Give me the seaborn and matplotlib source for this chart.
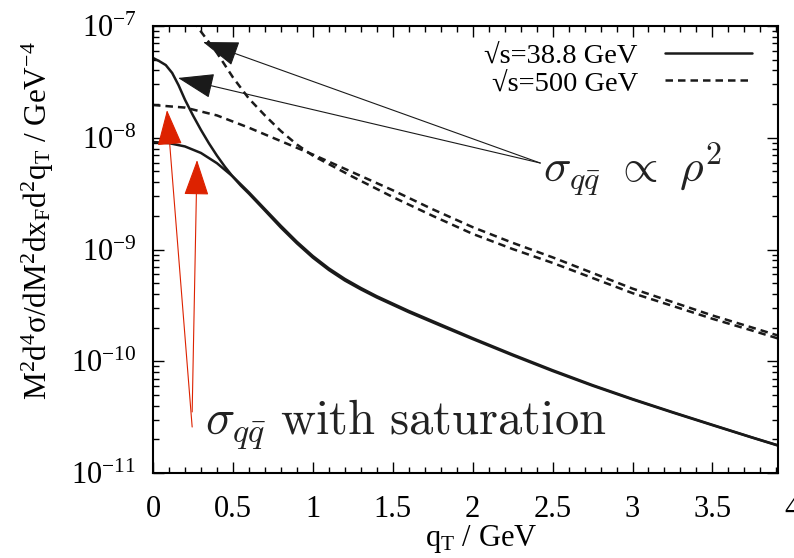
"""Drell-Yan qT spectrum: dipole cross section with and without saturation."""
import matplotlib
matplotlib.use("Agg")
import matplotlib.pyplot as plt
import numpy as np
import seaborn as sns
from matplotlib.lines import Line2D
from matplotlib.ticker import FixedLocator, FuncFormatter, LogLocator, MultipleLocator, NullFormatter

# sqrt(s) = 38.8 GeV, sigma_qq ~ rho^2
Q_388_RHO = [0.0, 0.04, 0.08, 0.12, 0.16, 0.20, 0.25, 0.30, 0.35, 0.40, 0.45, 0.50, 0.55,
             0.60, 0.70, 0.80, 0.90, 1.00, 1.10, 1.20, 1.30, 1.40, 1.60, 1.80, 2.00, 2.25,
             2.50, 2.75, 3.00, 3.25, 3.50, 3.75, 3.91]
XS_388_RHO = [5.18e-8, 4.84e-8, 4.47e-8, 3.80e-8, 2.95e-8, 2.19e-8, 1.585e-8, 1.175e-8,
              8.91e-9, 6.92e-9, 5.50e-9, 4.47e-9, 3.72e-9, 3.16e-9, 2.23e-9, 1.57e-9,
              1.135e-9, 8.45e-10, 6.56e-10, 5.28e-10, 4.40e-10, 3.72e-10, 2.75e-10,
              2.08e-10, 1.58e-10, 1.13e-10, 8.18e-11, 6.04e-11, 4.55e-11, 3.48e-11,
              2.68e-11, 2.07e-11, 1.76e-11]

# sqrt(s) = 38.8 GeV, saturated sigma_qq
Q_388_SAT = [0.0, 0.10, 0.20, 0.30, 0.40, 0.50, 0.60, 0.70, 0.80, 0.90, 1.00, 1.10, 1.20,
             1.30, 1.40, 1.60, 1.80, 2.00, 2.25, 2.50, 2.75, 3.00, 3.25, 3.50, 3.75, 3.91]
XS_388_SAT = [9.16e-9, 8.95e-9, 8.36e-9, 7.31e-9, 5.92e-9, 4.49e-9, 3.25e-9, 2.30e-9,
              1.63e-9, 1.175e-9, 8.75e-10, 6.78e-10, 5.46e-10, 4.53e-10, 3.82e-10,
              2.82e-10, 2.13e-10, 1.61e-10, 1.15e-10, 8.32e-11, 6.12e-11, 4.60e-11,
              3.51e-11, 2.70e-11, 2.08e-11, 1.77e-11]

# sqrt(s) = 500 GeV, sigma_qq ~ rho^2
Q_500_RHO = [0.25, 0.30, 0.40, 0.50, 0.60, 0.70, 0.80, 0.90, 1.00, 1.25, 1.50, 1.75, 2.00,
             2.25, 2.50, 2.75, 3.00, 3.25, 3.50, 3.75, 3.91]
XS_500_RHO = [1.12e-7, 8.91e-8, 5.75e-8, 3.47e-8, 2.24e-8, 1.585e-8, 1.148e-8, 8.71e-9,
              6.92e-9, 4.47e-9, 2.95e-9, 2.00e-9, 1.38e-9, 1.01e-9, 7.59e-10, 5.56e-10,
              4.07e-10, 3.13e-10, 2.40e-10, 1.88e-10, 1.60e-10]

# sqrt(s) = 500 GeV, saturated sigma_qq
Q_500_SAT = [0.0, 0.20, 0.40, 0.60, 0.80, 1.00, 1.25, 1.50, 1.75, 2.00, 2.25, 2.50, 2.75,
             3.00, 3.25, 3.50, 3.75, 3.91]
XS_500_SAT = [1.963e-8, 1.862e-8, 1.585e-8, 1.23e-8, 9.33e-9, 7.08e-9, 4.90e-9, 3.39e-9,
              2.29e-9, 1.585e-9, 1.148e-9, 8.51e-10, 6.17e-10, 4.47e-10, 3.39e-10,
              2.57e-10, 2.00e-10, 1.70e-10]

LEGEND_LABELS = ["√s=38.8 GeV", "√s=500 GeV"]
Y_DECADES = [1e-11, 1e-10, 1e-9, 1e-8, 1e-7]
Y_TICK_LABELS = [r"$10^{-11}$", r"$10^{-10}$", r"$10^{-9}$", r"$10^{-8}$", r"$10^{-7}$"]

sns.set_theme(style="ticks")
plt.rcParams["font.family"] = ["Liberation Serif", "DejaVu Serif"]
plt.rcParams.update({
    "mathtext.fontset": "custom",
    "mathtext.rm": "Liberation Serif",
    "mathtext.it": "Liberation Serif:italic",
    "mathtext.bf": "Liberation Serif:bold",
    "axes.edgecolor": "black",
    "xtick.color": "black",
    "ytick.color": "black",
    "text.color": "black",
    "axes.labelcolor": "black",
})

fig = plt.figure(figsize=(7.94, 5.58), dpi=100)
ax = fig.add_axes([0.1927, 0.1523, 0.7871, 0.8011])

LW = 1.8
DASH = (0, (3, 2))
sns.lineplot(x=Q_388_RHO, y=XS_388_RHO, ax=ax, color="k", lw=LW, estimator=None)
sns.lineplot(x=Q_388_SAT, y=XS_388_SAT, ax=ax, color="k", lw=LW, estimator=None)
sns.lineplot(x=Q_500_RHO, y=XS_500_RHO, ax=ax, color="k", lw=LW, linestyle=DASH, estimator=None)
sns.lineplot(x=Q_500_SAT, y=XS_500_SAT, ax=ax, color="k", lw=LW, linestyle=DASH, estimator=None)

ax.set_yscale("log")
ax.set_ylim(1e-11, 1e-7)
ax.set_xlim(0, 3.91)

ax.yaxis.set_major_locator(FixedLocator(Y_DECADES))
ax.set_yticklabels(Y_TICK_LABELS)
ax.yaxis.set_minor_locator(LogLocator(base=10, subs=np.arange(2, 10)))
ax.yaxis.set_minor_formatter(NullFormatter())
ax.xaxis.set_major_locator(MultipleLocator(0.5))
ax.xaxis.set_major_formatter(FuncFormatter(lambda v, _: f"{v:g}"))
ax.xaxis.set_minor_locator(MultipleLocator(0.1))

ax.tick_params(which="both", direction="in", top=True, right=True, width=1.0, labelsize=22)
ax.tick_params(axis="y", pad=12)
ax.tick_params(axis="x", pad=16)
ax.tick_params(which="major", length=8)
ax.tick_params(which="minor", length=4.3)
for sp in ax.spines.values():
    sp.set_linewidth(1.5)
    sp.set_color("black")

# gnuplot put the "4" label just past the right border
ax.text(4.0, -0.049, "4", transform=ax.get_xaxis_transform(), ha="center", va="top",
        fontsize=22, clip_on=False)

ax.set_xlabel(r"q$_{\rm T}$ / GeV", fontsize=22)
ax.xaxis.set_label_coords(0.525, -0.112)
ax.set_ylabel(r"M$^2$d$^4$σ/dM$^2$dx$_{\rm F}$d$^2$q$_{\rm T}$ / GeV$^{-4}$", fontsize=22.5)
ax.yaxis.set_label_coords(-0.155, 0.565)

handles = [Line2D([], [], color="k", lw=LW), Line2D([], [], color="k", lw=LW, linestyle=DASH)]
ax.legend(handles, LEGEND_LABELS, loc="upper right", bbox_to_anchor=(0.958, 0.962),
          frameon=False, markerfirst=False, fontsize=20.5, handlelength=3.05,
          handletextpad=0.95, borderaxespad=0, borderpad=0, labelspacing=0.05)

# annotation arrows
black_arrow = dict(arrowstyle="-|>,head_length=1.15,head_width=0.4", color="k", lw=0.8,
                   shrinkA=0, shrinkB=0, mutation_scale=20)
ax.annotate("", xy=(0.313, 7.19e-8), xytext=(2.423, 5.94e-9), arrowprops=black_arrow)
ax.annotate("", xy=(0.1565, 3.43e-8), xytext=(2.423, 5.94e-9), arrowprops=black_arrow)
red_arrow = dict(black_arrow, color="#dd2200")
ax.annotate("", xy=(0.0877, 1.77e-8), xytext=(0.245, 2.58e-11), arrowprops=red_arrow)
ax.annotate("", xy=(0.2755, 6.32e-9), xytext=(0.245, 3.52e-11), arrowprops=red_arrow)

ax.text(0.624, 0.651, r"$\sigma_{q\bar{q}}\ \propto\ \rho^2$", transform=ax.transAxes,
        fontsize=33, math_fontfamily="cm", color="#222222", va="baseline")
ax.text(0.083, 0.085, r"$\sigma_{q\bar{q}}\ \mathrm{with\ saturation}$", transform=ax.transAxes,
        fontsize=35, math_fontfamily="cm", color="#222222", va="baseline")

fig.savefig("out.png", dpi=100)
